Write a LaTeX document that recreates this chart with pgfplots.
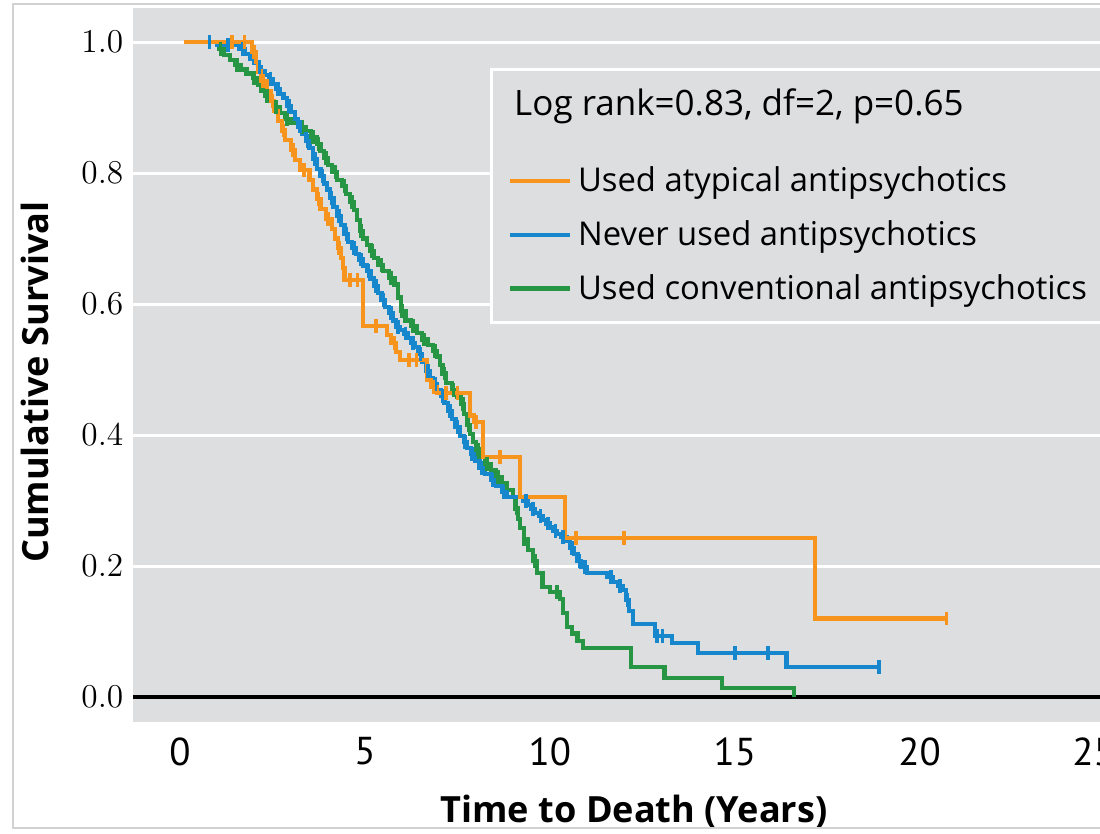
\documentclass[border=0pt]{standalone}
\usepackage{pgfplots}
\pgfplotsset{compat=1.18}
\usepackage{pgfplotstable}
\usepackage{fontspec}
\setmainfont{Open Sans}
\newfontfamily\tickfont{PT Sans}

\definecolor{bggray}{RGB}{221,222,224}
\definecolor{kmorange}{RGB}{247,148,30}
\definecolor{kmblue}{RGB}{22,135,205}
\definecolor{kmgreen}{RGB}{38,150,68}

% Kaplan-Meier steps: t, survival after the step
\pgfplotstableread{
t s
0.1 1.000
1.95 0.985
2.05 0.970
2.12 0.955
2.2 0.940
2.35 0.925
2.45 0.910
2.55 0.895
2.65 0.880
2.75 0.865
2.85 0.850
3.0 0.835
3.1 0.820
3.25 0.805
3.5 0.790
3.6 0.775
3.7 0.760
3.8 0.745
3.95 0.730
4.1 0.715
4.2 0.700
4.28 0.685
4.35 0.670
4.4 0.655
4.45 0.637
4.95 0.567
5.6 0.553
5.7 0.540
5.85 0.527
5.95 0.515
6.68 0.484
6.8 0.474
6.95 0.464
7.84 0.430
7.95 0.420
8.19 0.366
9.19 0.305
10.4 0.243
17.16 0.120
20.73 0.120
}\atypical

\pgfplotstableread{
t s
0.6 1.000
1.0 0.995
1.6 0.990
1.75 0.982
1.9 0.975
2.0 0.968
2.1 0.962
2.2 0.955
2.3 0.950
2.4 0.944
2.5 0.936
2.6 0.928
2.7 0.921
2.8 0.914
2.9 0.903
3.0 0.893
3.1 0.882
3.2 0.871
3.3 0.860
3.4 0.849
3.5 0.838
3.6 0.822
3.7 0.806
3.8 0.795
3.9 0.784
3.97 0.775
4.05 0.762
4.15 0.748
4.25 0.735
4.35 0.721
4.45 0.707
4.55 0.695
4.65 0.686
4.75 0.677
4.85 0.668
4.95 0.659
5.05 0.650
5.15 0.639
5.25 0.628
5.35 0.617
5.45 0.606
5.55 0.596
5.65 0.586
5.75 0.575
5.85 0.565
5.95 0.560
6.05 0.555
6.15 0.548
6.25 0.541
6.35 0.534
6.45 0.524
6.55 0.511
6.65 0.498
6.75 0.487
6.85 0.478
6.95 0.469
7.05 0.460
7.15 0.449
7.25 0.437
7.35 0.425
7.45 0.412
7.57 0.398
7.67 0.389
7.77 0.380
7.87 0.371
7.97 0.361
8.1 0.350
8.25 0.340
8.4 0.331
8.55 0.322
8.7 0.313
8.84 0.305
9.27 0.300
9.4 0.293
9.5 0.287
9.6 0.281
9.7 0.276
9.8 0.271
9.9 0.265
10.0 0.259
10.1 0.253
10.2 0.249
10.3 0.245
10.46 0.238
10.55 0.228
10.65 0.218
10.75 0.208
10.85 0.199
11.0 0.190
11.55 0.183
11.7 0.176
11.85 0.170
11.97 0.163
12.05 0.148
12.15 0.132
12.24 0.112
12.85 0.093
13.3 0.082
14.0 0.067
16.4 0.046
18.9 0.046
}\never

\pgfplotstableread{
t s
0.9 1.000
1.05 0.990
1.2 0.980
1.35 0.972
1.5 0.965
1.65 0.958
1.8 0.952
1.97 0.945
2.1 0.935
2.2 0.926
2.3 0.918
2.4 0.910
2.55 0.901
2.7 0.892
2.85 0.883
3.0 0.877
3.2 0.870
3.4 0.864
3.55 0.855
3.7 0.845
3.8 0.834
3.9 0.823
4.0 0.812
4.12 0.801
4.25 0.790
4.38 0.780
4.5 0.768
4.6 0.756
4.7 0.744
4.78 0.728
4.86 0.712
4.95 0.700
5.05 0.690
5.15 0.681
5.25 0.670
5.35 0.660
5.5 0.650
5.65 0.640
5.8 0.630
5.9 0.610
5.97 0.590
6.1 0.575
6.25 0.566
6.4 0.556
6.55 0.546
6.7 0.538
6.85 0.529
6.95 0.520
7.03 0.507
7.1 0.494
7.2 0.480
7.35 0.469
7.5 0.458
7.6 0.448
7.68 0.432
7.76 0.416
7.84 0.402
7.92 0.390
8.0 0.378
8.1 0.366
8.25 0.356
8.4 0.346
8.55 0.336
8.7 0.326
8.85 0.316
9.0 0.305
9.07 0.288
9.13 0.272
9.2 0.258
9.3 0.241
9.4 0.225
9.54 0.208
9.65 0.190
9.8 0.168
10.0 0.160
10.27 0.150
10.35 0.128
10.46 0.107
10.6 0.097
10.75 0.086
10.9 0.075
12.2 0.046
13.1 0.029
14.65 0.014
16.6 0.000
}\conventional

% censored observations
\pgfplotstableread{
t s
1.4 1.0
1.75 1.0
2.0 0.985
2.25 0.94
2.5 0.91
2.8 0.865
3.05 0.835
3.35 0.805
3.75 0.760
4.0 0.730
4.3 0.685
4.6 0.637
4.8 0.637
5.3 0.567
5.8 0.540
6.2 0.515
6.4 0.515
6.85 0.474
7.2 0.464
7.5 0.464
8.0 0.420
8.65 0.366
10.7 0.243
12.0 0.243
20.73 0.120
}\atypcens

\pgfplotstableread{
t s
0.8 1.0
1.3 0.995
1.7 0.990
2.15 0.962
2.45 0.944
2.65 0.928
2.95 0.903
3.25 0.871
3.45 0.849
3.65 0.822
3.85 0.795
4.1 0.762
4.3 0.735
4.5 0.707
4.7 0.686
4.9 0.668
5.1 0.650
5.3 0.628
5.5 0.606
5.7 0.586
5.9 0.565
6.1 0.555
6.3 0.541
6.5 0.524
6.7 0.498
6.9 0.478
7.1 0.460
7.3 0.437
7.5 0.412
7.7 0.389
7.9 0.371
8.15 0.350
8.45 0.331
8.75 0.313
9.35 0.300
9.55 0.287
9.75 0.276
9.95 0.265
10.15 0.253
10.35 0.245
10.6 0.228
10.8 0.208
10.95 0.199
11.65 0.183
11.9 0.170
12.1 0.148
12.9 0.093
13.05 0.093
15.0 0.067
15.9 0.067
18.9 0.046
}\nevercens

\pgfplotstableread{
t s
1.1 0.990
1.55 0.965
2.0 0.945
2.35 0.918
2.6 0.901
2.9 0.883
3.3 0.870
3.6 0.855
3.75 0.845
3.95 0.823
4.2 0.801
4.45 0.780
4.65 0.756
4.9 0.712
5.2 0.681
5.45 0.660
5.7 0.640
6.0 0.590
6.3 0.566
6.6 0.546
6.9 0.529
7.15 0.494
7.4 0.469
7.65 0.448
7.8 0.416
8.05 0.378
8.3 0.356
8.6 0.336
9.1 0.288
9.3 0.241
9.6 0.208
10.2 0.160
}\convcens

\begin{document}
\begin{tikzpicture}
\begin{axis}[
    scale only axis,
    width=352.44pt, height=257.04pt,
    xmin=-1.27, xmax=25.2, ymin=-0.038, ymax=1.052,
    axis background/.style={fill=bggray},
    axis line style={draw=none},
    major tick length=0pt,
    xtick={0,5,10,15,20,25},
    xticklabels={0,5,10,15,20,\hspace*{-8pt}25},
    xticklabel style={font=\tickfont\fontsize{14}{16}\selectfont, yshift=-2pt},
    ytick={0,0.2,0.4,0.6,0.8,1.0},
    ymajorgrids, grid style={white, line width=1.1pt},
    extra y ticks={0}, extra y tick labels={},
    extra y tick style={grid style={black, line width=1.5pt}},
    xlabel={Time to Death (Years)},
    ylabel={Cumulative Survival},
    label style={font=\bfseries\fontsize{13}{15}\selectfont},
    xlabel style={at={(rel axis cs:0.5117,-0.126)}, anchor=center},
    ylabel style={at={(rel axis cs:-0.1001,0.476)}, anchor=center},
    legend style={at={(axis cs:8.38,0.96)}, anchor=north west,
        fill=bggray, draw=white, line width=1.1pt,
        inner xsep=6pt, inner ysep=4.8pt, row sep=4.9pt,
        font=\fontsize{11.8}{14}\selectfont},
    legend cell align=left,
    legend image code/.code={\draw[#1] (0pt,0pt) -- (21.6pt,0pt);},
    yticklabel style={font=\fontsize{11.5}{13}\selectfont,
        /pgf/number format/.cd, fixed, fixed zerofill, precision=1},
]
\addlegendimage{empty legend}
\addlegendentry[text depth=9.5pt]{\hspace*{-25pt}\fontsize{12.6}{14}\selectfont Log rank=0.83, df=2, p=0.65}
\addlegendimage{kmorange, line width=1.6pt}
\addlegendentry[xshift=-2pt]{Used atypical antipsychotics}
\addlegendimage{kmblue, line width=1.6pt}
\addlegendentry[xshift=-2pt]{Never used antipsychotics}
\addlegendimage{kmgreen, line width=1.6pt}
\addlegendentry[xshift=-2pt]{Used conventional antipsychotics}

\addplot[const plot, kmgreen, line width=1.5pt, forget plot] table {\conventional};
\addplot[only marks, mark=|, mark size=2.5pt, mark options={line width=1.3pt}, kmgreen, forget plot] table {\convcens};
\addplot[const plot, kmblue, line width=1.5pt, forget plot] table {\never};
\addplot[only marks, mark=|, mark size=2.5pt, mark options={line width=1.3pt}, kmblue, forget plot] table {\nevercens};
\addplot[const plot, kmorange, line width=1.5pt, forget plot] table {\atypical};
\addplot[only marks, mark=|, mark size=2.5pt, mark options={line width=1.3pt}, kmorange, forget plot] table {\atypcens};
\end{axis}
\draw[gray!35, line width=0.7pt] ([shift={(-43.2pt,-38.16pt)}]current axis.south west) rectangle ([shift={(360pt,258.5pt)}]current axis.south west);
\pgfresetboundingbox
\path[use as bounding box] ([shift={(-47.88pt,-39.96pt)}]current axis.south west) rectangle ([shift={(348.12pt,259.92pt)}]current axis.south west);
\end{tikzpicture}
\end{document}
